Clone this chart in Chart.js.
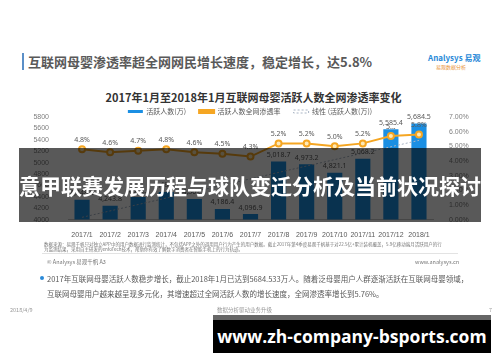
<!DOCTYPE html>
<html>
<head>
<meta charset="utf-8">
<script src="https://cdn.jsdelivr.net/npm/chart.js@4/dist/chart.umd.min.js"></script>
<style>
  body { margin: 0; width: 500px; height: 362px; background: #fff; overflow: hidden;
         font-family: "Noto Sans CJK SC", "Noto Sans", sans-serif; position: relative; }
  .abs { position: absolute; white-space: nowrap; }
  .chartBox { position: absolute; left: 0; top: 95px; width: 500px; height: 149px; }
</style>
</head>
<body>
<div class="abs" style="left:22px;top:53px;width:2px;height:17px;background:#5b8fc7;"></div>
<div class="abs" style="left:28px;top:52px;font-size:13px;font-weight:bold;color:#595959;">互联网母婴渗透率超全网网民增长速度，稳定增长，达5.8%</div>
<div class="abs" style="left:428px;top:52px;font-size:8px;font-weight:bold;color:#2a8ad8;">Analysys 易观</div>
<div class="abs" style="left:436px;top:63px;font-size:5px;color:#e8943a;">易观数据分析</div>

<div class="abs" style="left:0;top:89px;width:507px;text-align:center;font-size:11px;line-height:16px;font-weight:bold;color:#333;">2017年1月至2018年1月互联网母婴活跃人数全网渗透率变化</div>
<div class="chartBox"><canvas class="chartMuying"></canvas></div>

<div class="abs" style="left:44px;top:242px;font-size:4.5px;line-height:4.5px;color:#777;">数据来源：易观千帆只对独立APP中的用户数据进行监测统计，不包括APP之外的调用用户行为产生的用户数据。截止2017年第4季度易观千帆基于对22.5亿+累计装机覆盖，5.9亿移动端月活跃用户的行<br>为监测结果，采用自主研发的enfoTech技术，帮助你有效了解数字消费者在智能手机上的行为轨迹。</div>
<div class="abs" style="left:42px;top:253px;width:416px;height:1px;background:#e3e3e3;"></div>
<div class="abs" style="left:47px;top:258px;font-size:5.5px;color:#777;">© Analysys 易观千帆 A3</div>
<div class="abs" style="left:415px;top:258px;font-size:5.5px;color:#777;">www.analysys.cn</div>

<div class="abs" style="left:40px;top:276px;width:4px;height:4px;border-radius:2px;background:#2a8ad8;"></div>
<div class="abs" style="left:47px;top:271px;font-size:7.5px;line-height:15px;color:#595959;">2017年互联网母婴活跃人数稳步增长，截止2018年1月已达到5684.533万人。随着泛母婴用户人群逐渐活跃在互联网母婴领域，<br>互联网母婴用户越来越呈现多元化，其增速超过全网活跃人数的增长速度，全网渗透率增长到5.76%。</div>

<div class="abs" style="left:10px;top:306px;font-size:5.5px;color:#999;">2018/4/9</div>
<div class="abs" style="left:217px;top:306px;font-size:5.5px;color:#999;">数据分析驱动业务升级</div>
<div class="abs" style="left:489px;top:306px;font-size:5.5px;color:#999;">7</div>

<div class="abs" style="left:19px;top:148px;width:462px;height:74px;background:rgba(0,0,0,0.65);"></div>
<div class="abs" style="left:0;top:170px;width:500px;text-align:center;font-size:21px;line-height:30px;font-weight:bold;color:#fff;">意甲联赛发展历程与球队变迁分析及当前状况探讨</div>

<div class="abs" style="left:213px;top:315px;width:278px;height:5px;background:#666;"></div>
<div class="abs" style="left:213px;top:320px;width:278px;height:33px;background:#000;"></div>
<div class="abs" style="left:213px;top:320px;width:278px;height:33px;line-height:33px;text-align:center;font-family:'Open Sans',sans-serif;font-size:17.5px;font-weight:bold;color:#fff;">www.zh-company-bsports.com</div>

<script>
const mois = ["2017/1", "2017/2", "2017/3", "2017/4", "2017/5", "2017/6", "2017/7", "2017/8", "2017/9", "2017/10", "2017/11", "2017/12", "2018/1"];
const actifs = [4348.6, 4243.8, 4396.0, 4485.0, 4362.7, 4186.4, 4096.9, 5018.7, 4973.2, 4821.1, 5068.2, 5585.4, 5684.5];
const penetration = [4.8, 4.6, 4.7, 4.8, 4.6, 4.5, 4.3, 5.2, 5.2, 5.0, 5.2, 5.7, 5.8];
const tendance = [4040, null, null, null, null, null, null, null, null, null, null, null, 5390];
const labelsPenetration = ["4.8%", "4.6%", "4.7%", "4.8%", "4.6%", "4.5%", "4.3%", "5.2%", "5.2%", "5.0%", "5.2%", "5...", "5.8%"];

const etiquettes = {
  id: "etiquettes",
  afterDatasetsDraw(chart) {
    const ctx = chart.ctx;
    ctx.save();
    ctx.font = "7px 'Noto Sans', sans-serif";
    ctx.fillStyle = "#595959";
    ctx.textAlign = "center";
    ctx.textBaseline = "bottom";
    chart.getDatasetMeta(0).data.forEach(function (el, i) {
      ctx.fillText(actifs[i].toLocaleString("en-US", { minimumFractionDigits: 1 }), el.x, el.y - 3);
    });
    chart.getDatasetMeta(1).data.forEach(function (el, i) {
      ctx.fillText(labelsPenetration[i], el.x, el.y - 6);
    });
    ctx.restore();
  },
};

const chartMuying = document.querySelector(".chartMuying");
var contextMuying = chartMuying.getContext("2d");
var myChartMuying = new Chart(contextMuying, {
  type: "bar",
  data: {
    labels: mois,
    datasets: [
      {
        label: "活跃人数(万)",
        data: actifs,
        backgroundColor: "#1b8fe3",
        borderWidth: 0,
        barPercentage: 0.6,
        categoryPercentage: 0.9,
        yAxisID: "y",
        order: 3,
      },
      {
        type: "line",
        label: "活跃人数全网渗透率",
        data: penetration,
        borderColor: "#f5a623",
        backgroundColor: "#f5a623",
        pointBackgroundColor: "#fde9b8",
        pointBorderColor: "#f5a623",
        pointRadius: 3,
        borderWidth: 2,
        yAxisID: "y1",
        order: 1,
      },
      {
        type: "line",
        label: "线性 (活跃人数(万))",
        data: tendance,
        spanGaps: true,
        borderColor: "#a9b4c4",
        backgroundColor: "#ffffff",
        borderDash: [2, 2],
        borderWidth: 1,
        pointRadius: 0,
        yAxisID: "y",
        order: 2,
      },
    ],
  },
  options: {
    responsive: true,
    maintainAspectRatio: false,
    animation: false,
    layout: { padding: { top: 0, bottom: 2 } },
    plugins: {
      legend: {
        maxHeight: 22,
        labels: {
          boxWidth: 15,
          boxHeight: 3,
          padding: 13,
          color: "#595959",
          font: { size: 7, family: "'Noto Sans CJK SC'" },
          sort: function (a, b) { return a.datasetIndex - b.datasetIndex; },
        },
      },
      tooltip: { enabled: false },
    },
    scales: {
      x: {
        grid: { display: false },
        border: { color: "#c8c8c8" },
        ticks: { color: "#595959", font: { size: 7 }, padding: 3, maxRotation: 0, autoSkip: false },
      },
      y: {
        position: "left",
        min: 4000,
        max: 5800,
        grid: { display: false },
        border: { display: false },
        ticks: { stepSize: 200, color: "#7f7f7f", font: { size: 7 }, padding: 11,
          callback: function (v) { return String(v); } },
        afterFit: function (s) { s.width = 68; },
      },
      y1: {
        position: "right",
        min: 0,
        max: 7,
        grid: { display: false },
        border: { display: false },
        ticks: { stepSize: 1, color: "#7f7f7f", font: { size: 7 }, padding: 8,
          callback: function (v) { return v.toFixed(2) + "%"; } },
        afterFit: function (s) { s.width = 67; },
      },
    },
  },
  plugins: [etiquettes],
});
</script>
</body>
</html>
